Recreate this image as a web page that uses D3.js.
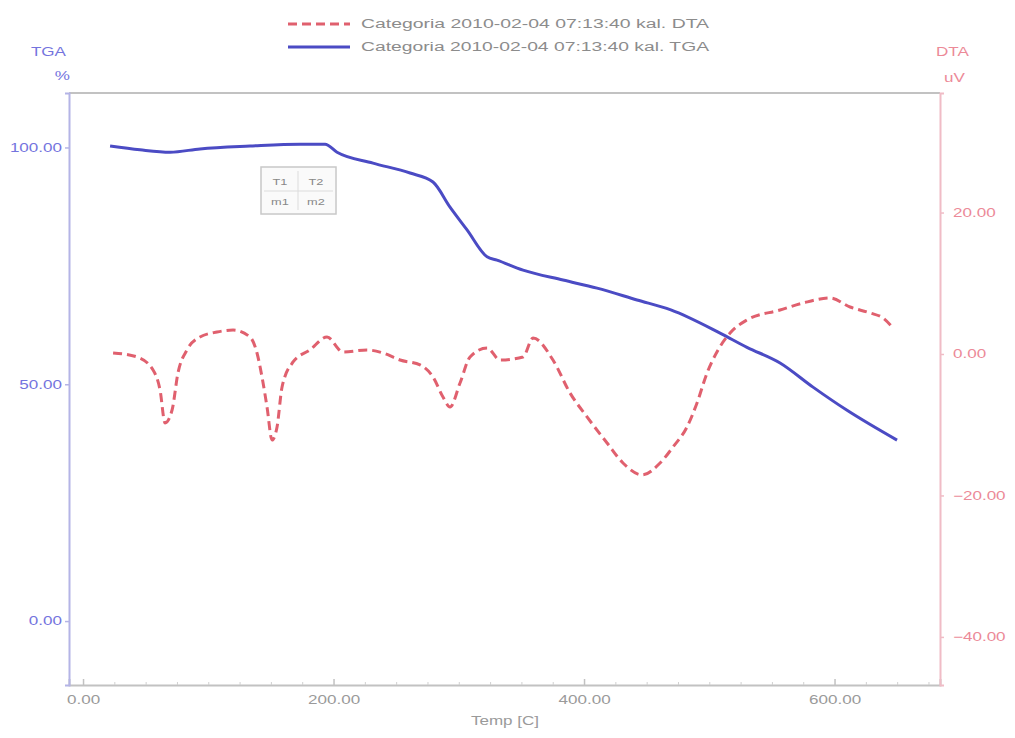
<!DOCTYPE html>
<html>
<head>
<meta charset="utf-8">
<script src="https://cdn.jsdelivr.net/npm/d3@7"></script>
<style>
  html, body { margin: 0; padding: 0; background: #fff; }
  svg { display: block; font-family: "Liberation Sans", Arial, sans-serif; }
</style>
</head>
<body>
<svg id="chart" width="1015" height="738"></svg>
<script>
// Thermal analysis run: temperature (C), TGA mass (%), DTA signal (uV)
const tgaTemp = [21.6, 45.5, 69.5, 93.4, 133.3, 173.3, 193.2, 202.8, 231.5, 261.1, 279.4, 293.0, 306.6,
  322.6, 330.5, 351.3, 383.2, 410.4, 442.3, 469.3, 508.6, 530.1, 556.5, 582.8, 610.0, 649.9];
const tgaMass = [100.3, 99.5, 99.0, 99.7, 100.3, 100.7, 100.7, 99.0, 96.7, 94.6, 92.7, 87.4, 82.6,
  76.9, 76.2, 74.1, 72.0, 70.3, 67.8, 65.7, 60.8, 57.8, 54.5, 49.4, 44.5, 38.2];

const dtaTemp = [24.0, 43.1, 55.9, 61.5, 65.5, 71.1, 75.8, 83.0, 93.4, 107.0, 119.8, 133.3, 138.9, 142.9,
  146.9, 150.9, 154.9, 158.9, 167.7, 181.2, 194.8, 207.6, 226.7, 239.5, 253.1, 269.1, 279.4, 287.4,
  293.0, 301.0, 309.0, 322.6, 332.9, 351.3, 359.3, 375.2, 388.8, 402.4, 418.4, 431.1, 446.3, 460.7,
  471.1, 482.2, 490.2, 498.2, 507.0, 516.6, 530.1, 556.5, 574.9, 596.4, 612.4, 628.4, 638.7, 646.7];
const dtaSignal = [0.14, -0.42, -2.26, -5.09, -9.75, -7.92, -2.69, 0.57, 2.40, 3.11, 3.39, 2.40, 0.14, -3.25,
  -7.49, -12.16, -10.32, -4.66, -1.13, 0.57, 2.40, 0.28, 0.57, 0.14, -0.85, -1.55, -3.25, -6.08,
  -7.49, -4.10, -0.42, 0.85, -0.85, -0.42, 2.26, -0.85, -5.51, -8.90, -12.58, -15.41, -17.10, -15.41,
  -13.14, -10.32, -6.93, -2.69, 0.57, 2.97, 4.81, 6.22, 7.21, 7.92, 6.64, 5.80, 5.09, 3.67];

const xTicks = [0, 200, 400, 600];
const tgaTicks = [0, 50, 100];
const dtaTicks = [-40, -20, 0, 20];

const legendLabels = ["Categoria 2010-02-04 07:13:40 kal. DTA", "Categoria 2010-02-04 07:13:40 kal. TGA"];
const infoCells = [["T1", "T2"], ["m1", "m2"]];

const COL_TGA = "#4b4bc4";
const COL_DTA = "#e0606e";
const COL_TGA_TXT = "#7474de";
const COL_DTA_TXT = "#ec8a98";
const COL_GRAY = "#c2c2c2";
const STRETCH = 1.42;

const svg = d3.select("#chart");
const plot = { left: 69, right: 940, top: 93, bottom: 685 };

const x = d3.scaleLinear().domain([-11.2, 684.2]).range([plot.left, plot.right]);
const yL = d3.scaleLinear().domain([-13.5, 111.5]).range([plot.bottom, plot.top]);
const yR = d3.scaleLinear().domain([-46.8, 36.9]).range([plot.bottom, plot.top]);

// widen text horizontally to the chart's proportions
function stretch(sel, factor) {
  sel.each(function () {
    const w = this.getComputedTextLength();
    d3.select(this).attr("textLength", w * (factor || STRETCH)).attr("lengthAdjust", "spacingAndGlyphs");
  });
}

// frame: top line and bottom axis in gray
svg.append("line").attr("x1", plot.left).attr("x2", plot.right).attr("y1", plot.top).attr("y2", plot.top)
  .attr("stroke", COL_GRAY).attr("stroke-width", 2);

// bottom axis
const xAxis = d3.axisBottom(x).tickValues(xTicks).tickSize(-6).tickPadding(10).tickFormat(d3.format(".2f"));
const gx = svg.append("g").attr("transform", `translate(0,${plot.bottom})`).call(xAxis);
gx.select(".domain").attr("stroke", COL_GRAY).attr("stroke-width", 2);
gx.selectAll(".tick line").attr("stroke", COL_GRAY).attr("stroke-width", 1.5);
gx.selectAll(".tick text").attr("fill", "#9a9a9a").attr("font-size", 12).call(stretch);

const minorX = d3.axisBottom(x).tickValues(d3.range(0, 681, 25).filter(v => v % 200 !== 0)).tickSize(-3).tickFormat("");
const gmx = svg.append("g").attr("transform", `translate(0,${plot.bottom})`).call(minorX);
gmx.select(".domain").remove();
gmx.selectAll(".tick line").attr("stroke", "#d0d0d0");

// left TGA axis
const yLAxis = d3.axisLeft(yL).tickValues(tgaTicks).tickSize(4).tickPadding(3).tickFormat(d3.format(".2f"));
const gl = svg.append("g").attr("transform", `translate(${plot.left},0)`).call(yLAxis);
gl.select(".domain").attr("stroke", "#b4b4e6").attr("stroke-width", 2);
gl.selectAll(".tick line").attr("stroke", "#b4b4e6").attr("stroke-width", 1.5);
gl.selectAll(".tick text").attr("fill", COL_TGA_TXT).attr("font-size", 12).call(stretch);

// right DTA axis
const yRAxis = d3.axisRight(yR).tickValues(dtaTicks).tickSize(4).tickPadding(9).tickFormat(d3.format(".2f"));
const gr = svg.append("g").attr("transform", `translate(${plot.right},0)`).call(yRAxis);
gr.select(".domain").attr("stroke", "#f0bcc6").attr("stroke-width", 2);
gr.selectAll(".tick line").attr("stroke", "#f0bcc6").attr("stroke-width", 1.5);
gr.selectAll(".tick text").attr("fill", COL_DTA_TXT).attr("font-size", 12).call(stretch);

// axis titles
svg.append("text").attr("x", 66).attr("y", 56).attr("text-anchor", "end")
  .attr("fill", COL_TGA_TXT).attr("font-size", 12).text("TGA").call(stretch);
svg.append("text").attr("x", 70).attr("y", 80).attr("text-anchor", "end")
  .attr("fill", COL_TGA_TXT).attr("font-size", 12).text("%").call(stretch);
svg.append("text").attr("x", 936).attr("y", 56).attr("text-anchor", "start")
  .attr("fill", COL_DTA_TXT).attr("font-size", 12).text("DTA").call(stretch);
svg.append("text").attr("x", 944).attr("y", 82).attr("text-anchor", "start")
  .attr("fill", COL_DTA_TXT).attr("font-size", 12).text("uV").call(stretch);
svg.append("text").attr("x", 505).attr("y", 725).attr("text-anchor", "middle")
  .attr("fill", "#9a9a9a").attr("font-size", 12).text("Temp [C]").call(stretch);

// small info table inside the plot
const box = svg.append("g").attr("transform", "translate(261,167)");
box.append("rect").attr("width", 75).attr("height", 47).attr("fill", "#fafafa")
  .attr("stroke", "#c8c8c8").attr("stroke-width", 1.5);
box.append("line").attr("x1", 3).attr("x2", 72).attr("y1", 24).attr("y2", 24).attr("stroke", "#dcdcdc");
box.append("line").attr("x1", 37).attr("x2", 37).attr("y1", 4).attr("y2", 43).attr("stroke", "#dcdcdc");
infoCells.forEach((row, r) => row.forEach((c, k) => {
  box.append("text").attr("x", 19 + k * 36).attr("y", 18 + r * 20).attr("text-anchor", "middle")
    .attr("font-size", 9).attr("fill", "#888").text(c).call(stretch);
}));

// curves
const tgaData = tgaTemp.map((t, i) => [t, tgaMass[i]]);
const dtaData = dtaTemp.map((t, i) => [t, dtaSignal[i]]);

svg.append("path").datum(tgaData)
  .attr("fill", "none").attr("stroke", COL_TGA).attr("stroke-width", 3).attr("stroke-linejoin", "round")
  .attr("d", d3.line().x(d => x(d[0])).y(d => yL(d[1])).curve(d3.curveMonotoneX));

svg.append("path").datum(dtaData)
  .attr("fill", "none").attr("stroke", COL_DTA).attr("stroke-width", 3).attr("stroke-dasharray", "9,5")
  .attr("d", d3.line().x(d => x(d[0])).y(d => yR(d[1])).curve(d3.curveMonotoneX));

// legend
const legend = svg.append("g");
const legendStyles = [
  { color: COL_DTA, dash: "9,5", y: 24 },
  { color: COL_TGA, dash: null, y: 47 }
];
legendStyles.forEach((s, i) => {
  legend.append("line").attr("x1", 288).attr("x2", 350).attr("y1", s.y).attr("y2", s.y)
    .attr("stroke", s.color).attr("stroke-width", 3).attr("stroke-dasharray", s.dash);
  legend.append("text").attr("x", 361).attr("y", s.y + 4).attr("font-size", 12).attr("fill", "#8c8c8c")
    .text(legendLabels[i]).attr("textLength", 348).attr("lengthAdjust", "spacingAndGlyphs");
});
</script>
</body>
</html>
